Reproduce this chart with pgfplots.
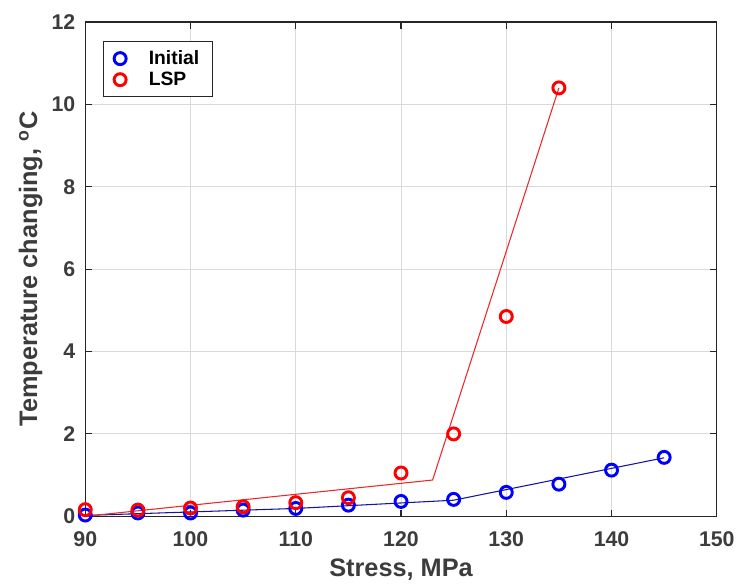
\documentclass[border=0pt]{standalone}
\usepackage{fontspec}
\setmainfont{Liberation Sans}
\usepackage{pgfplots}
\pgfplotsset{compat=1.18}
\definecolor{axgray}{RGB}{38,38,38}
\definecolor{mblue}{RGB}{0,0,255}
\definecolor{mred}{RGB}{255,0,0}
\definecolor{lblue}{RGB}{20,20,160}
\definecolor{lred}{RGB}{235,40,40}

\begin{document}
\begin{tikzpicture}
\begin{axis}[
  scale only axis, width=474pt, height=371pt,
  xmin=90, xmax=150, ymin=0, ymax=12,
  xtick={90,100,...,150}, ytick={0,2,...,12},
  grid=major, major grid style={draw=black!15, line width=0.6pt},
  axis line style={draw=axgray, line width=1pt},
  tick style={draw=axgray, line width=0.8pt}, major tick length=5pt,
  tick align=inside,
  /pgf/number format/assume math mode=true,
  ticklabel style={font=\fontsize{16}{18}\selectfont\bfseries, text=axgray!90},
  xticklabel style={yshift=-8pt}, yticklabel style={xshift=-4pt},
  xlabel={Stress, MPa}, ylabel={Temperature changing, \textsuperscript{o}C},
  label style={font=\fontsize{19}{22}\selectfont\bfseries, text=axgray!90},
  xlabel style={yshift=-2pt}, ylabel style={yshift=0pt},
  legend style={at={(0.028,0.962)}, anchor=north west, draw=axgray, line width=0.8pt,
    font=\fontsize{14.5}{17}\selectfont\bfseries, row sep=0pt, inner xsep=8pt, inner ysep=5pt,
    /tikz/every odd column/.append style={column sep=15pt}},
  legend cell align=left,
]
% fitted lines
\addplot[lblue, line width=0.8pt, forget plot] coordinates {(90,0.02)(110,0.19)(125,0.39)(145,1.42)};
\addplot[lred, line width=0.8pt, forget plot] coordinates {(90,0.0)(123,0.88)(135,10.4)};
% measured
\addplot[only marks, mark=o, mark size=4.5pt, mblue, line width=2.2pt] coordinates {
(90,0.03)(95,0.08)(100,0.08)(105,0.15)(110,0.19)(115,0.27)(120,0.36)(125,0.41)(130,0.58)(135,0.78)(140,1.12)(145,1.43)};
\addlegendentry{Initial}
\addplot[only marks, mark=o, mark size=4.5pt, mred, line width=2.2pt] coordinates {
(90,0.16)(95,0.15)(100,0.2)(105,0.23)(110,0.33)(115,0.45)(120,1.05)(125,2.0)(130,4.85)(135,10.4)};
\addlegendentry{LSP}
\end{axis}
% white margin as in the reference
\path (-64pt,0) (0,387.5pt);
\end{tikzpicture}
\end{document}
